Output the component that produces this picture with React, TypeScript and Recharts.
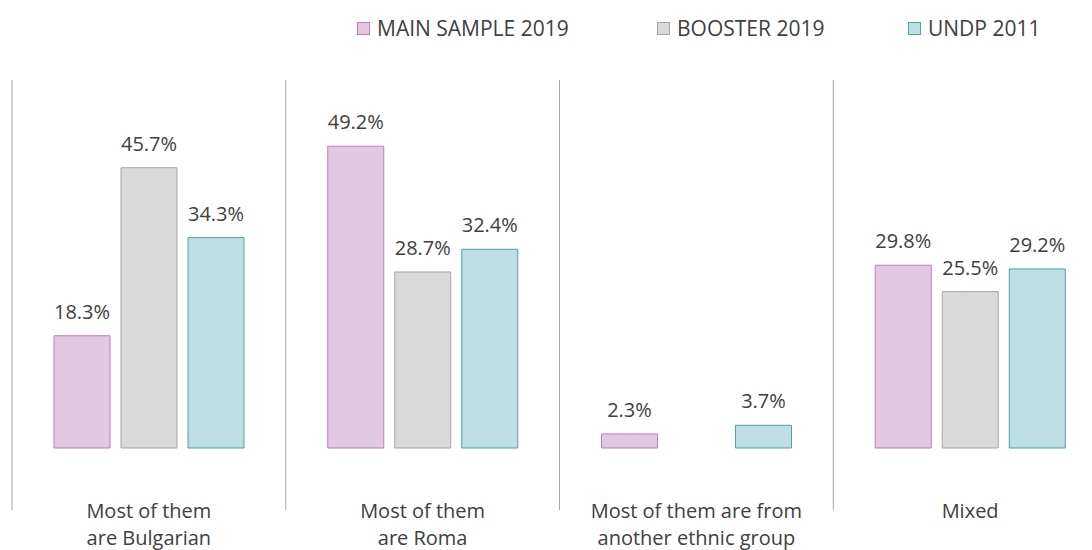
import { BarChart, Bar, XAxis, YAxis, LabelList } from 'recharts';

const categories = [
  ['Most of them', 'are Bulgarian'],
  ['Most of them', 'are Roma'],
  ['Most of them are from', 'another ethnic group'],
  ['Mixed'],
];
const mainSample2019 = [18.3, 49.2, 2.3, 29.8];
const booster2019 = [45.7, 28.7, null, 25.5];
const undp2011 = [34.3, 32.4, 3.7, 29.2];

const series = [
  { key: 'main', name: 'MAIN SAMPLE 2019', fill: '#E2C9E0', stroke: '#C27BBF', legendX: 357 },
  { key: 'booster', name: 'BOOSTER 2019', fill: '#D9D9D9', stroke: '#A5A5A5', legendX: 657 },
  { key: 'undp', name: 'UNDP 2011', fill: '#BEDFE2', stroke: '#4EA2A6', legendX: 908 },
];

const data = categories.map((lines, i) => ({
  label: lines.join('\n'),
  main: mainSample2019[i],
  booster: booster2019[i],
  undp: undp2011[i],
}));

const FONT = '"Open Sans", sans-serif';
const TEXT = '#404040';
const CHART_W = 1120;
const MARGIN = { top: 80, right: 13, bottom: 22, left: 12 };
const BAND = (CHART_W - MARGIN.left - MARGIN.right) / categories.length;

const fmt = (v: any) => (v == null ? '' : `${Number(v).toFixed(1)}%`);

function CategoryTick(props: any) {
  const { x, y, payload, index } = props;
  const lines = String(payload.value).split('\n');
  const left = x - BAND / 2;
  return (
    <g>
      <line x1={left} x2={left} y1={y - 368} y2={y + 62} stroke="#A6A6A6" strokeWidth={1} />
      {index === categories.length - 1 && (
        <line x1={x + BAND / 2} x2={x + BAND / 2} y1={y - 368} y2={y + 62} stroke="#A6A6A6" strokeWidth={1} />
      )}
      <text x={x} y={y + 70} textAnchor="middle" fontFamily={FONT} fontSize={20} fill={TEXT}>
        {lines.map((line, i) => (
          <tspan key={i} x={x} dy={i === 0 ? 0 : 27}>
            {line}
          </tspan>
        ))}
      </text>
    </g>
  );
}

export default function App() {
  return (
    <div
      style={{
        position: 'absolute',
        left: 0,
        top: 0,
        width: 1092,
        height: 550,
        overflow: 'hidden',
        background: '#fff',
      }}
    >
      {series.map((s) => (
        <div
          key={s.key}
          style={{
            position: 'absolute',
            left: s.legendX,
            top: 14,
            display: 'flex',
            alignItems: 'center',
            fontFamily: FONT,
            fontSize: 21,
            color: TEXT,
            whiteSpace: 'nowrap',
          }}
        >
          <span
            style={{
              display: 'inline-block',
              width: 11,
              height: 11,
              background: s.fill,
              border: `1px solid ${s.stroke}`,
              marginRight: 7,
            }}
          />
          {s.name}
        </div>
      ))}
      <BarChart
        width={CHART_W}
        height={550}
        data={data}
        margin={MARGIN}
        barSize={56}
        barGap={11}
      >
        <XAxis
          dataKey="label"
          height={80}
          axisLine={false}
          tickLine={false}
          tickSize={0}
          tickMargin={0}
          interval={0}
          tick={<CategoryTick />}
        />
        <YAxis hide domain={[0, 60]} />
        {series.map((s) => (
          <Bar
            key={s.key}
            dataKey={s.key}
            name={s.name}
            fill={s.fill}
            stroke={s.stroke}
            strokeWidth={1}
            isAnimationActive={false}
          >
            <LabelList
              dataKey={s.key}
              position="top"
              offset={17}
              formatter={fmt}
              fill={TEXT}
              fontFamily={FONT}
              fontSize={20}
            />
          </Bar>
        ))}
      </BarChart>
    </div>
  );
}
